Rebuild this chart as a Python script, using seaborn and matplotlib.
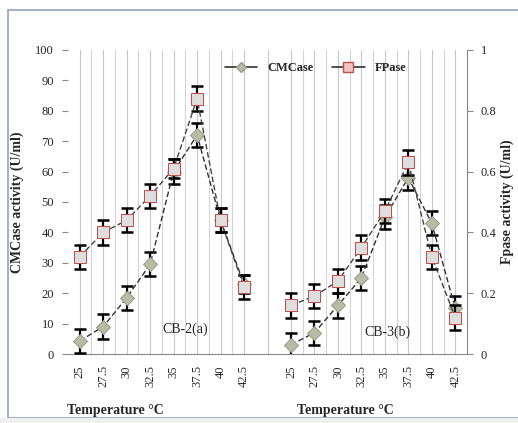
import numpy as np
import pandas as pd
import matplotlib
matplotlib.use("Agg")
import matplotlib.pyplot as plt
import seaborn as sns
from matplotlib.patches import Rectangle
from matplotlib.lines import Line2D

# Datos
temps = ["25", "27.5", "30", "32.5", "35", "37.5", "40", "42.5"]
groups = ["CB-2(a)", "CB-3(b)"]

cmc_a = [4.3, 9, 18.5, 29.5, 60, 72, 44, 23]
cmc_a_err = [4, 4, 4, 4, 4, 4, 4, 3]
fp_a = [0.32, 0.40, 0.44, 0.52, 0.61, 0.84, 0.44, 0.22]
fp_a_err = [0.04, 0.04, 0.04, 0.04, 0.03, 0.04, 0.04, 0.04]

cmc_b = [3, 7, 16, 25, 45, 58, 43, 15]
cmc_b_err = [4, 4, 4, 4, 4, 4, 4, 4]
fp_b = [0.16, 0.19, 0.24, 0.35, 0.47, 0.63, 0.32, 0.12]
fp_b_err = [0.04, 0.04, 0.04, 0.04, 0.04, 0.04, 0.04, 0.04]

# posiciones: 8 categorias + 1 hueco + 8 categorias
n = len(temps)
pos_a = np.arange(n)
pos_b = np.arange(n) + n + 1
df = pd.DataFrame({
    "pos": np.concatenate([pos_a, pos_b]),
    "grupo": [groups[0]] * n + [groups[1]] * n,
    "cmc": cmc_a + cmc_b,
    "cmc_err": cmc_a_err + cmc_b_err,
    "fp": fp_a + fp_b,
    "fp_err": fp_a_err + fp_b_err,
})

sns.set_style("white")
plt.rcParams["font.family"] = ["Liberation Serif", "DejaVu Serif"]

fig = plt.figure(figsize=(5.18, 4.23), dpi=100)
ax = fig.add_axes([68 / 518, 1 - 354 / 423, 399 / 518, 304 / 423])
ax2 = ax.twinx()

ncat = 2 * n + 1
ax.set_xlim(-0.5, ncat - 0.5)
ax.set_ylim(0, 100)
ax2.set_ylim(0, 1)

# rejilla vertical (centros y bordes de categoria)
for x in np.arange(ncat):
    ax.axvline(x, color="#c8c8c8", lw=0.8, zorder=0)
for x in np.arange(ncat - 1) + 0.5:
    if x in (7.5, 8.5):
        continue
    ax.axvline(x, color="#d4d4d4", lw=0.8, zorder=0)

cmc_face = "#b9bca4"
fp_face = "#dedede"
fp_edge = "#c0504d"

for g in groups:
    d = df[df["grupo"] == g]
    ax.errorbar(d["pos"], d["cmc"], yerr=d["cmc_err"], fmt="none", ecolor="black",
                elinewidth=1.6, capsize=4, capthick=1.8, zorder=3)
    ax2.errorbar(d["pos"], d["fp"], yerr=d["fp_err"], fmt="none", ecolor="black",
                 elinewidth=1.6, capsize=4, capthick=1.8, zorder=3)
    sns.lineplot(data=d, x="pos", y="cmc", ax=ax, color="#333333", lw=1.0,
                 linestyle=(0, (4, 2)), marker="D", markersize=7,
                 markerfacecolor=cmc_face, markeredgecolor="#9a9d88", zorder=4)
    sns.lineplot(data=d, x="pos", y="fp", ax=ax2, color="#444444", lw=1.0,
                 linestyle=(0, (4, 2)), marker="s", markersize=9,
                 markerfacecolor=fp_face, markeredgecolor=fp_edge, zorder=4)

# ejes x
ticklabels = temps + [""] + temps
ax.set_xticks(np.arange(ncat))
ax.set_xticklabels(ticklabels, rotation=90, fontsize=9)
ax.set_xticks([1.5, 2.5, 3.5, 6.5, 7.5, 9.5, 10.5, 11.5, 14.5, 15.5], minor=True)
ax.tick_params(axis="x", which="major", length=0, pad=8)
ax.tick_params(axis="x", which="minor", length=4, color="#888888", direction="out")
ax.set_xlabel("")
ax.set_ylabel("")
ax2.set_xlabel("")
ax2.set_ylabel("")

ax.set_yticks(np.arange(0, 101, 10))
ax.tick_params(axis="y", length=4, color="#888888", labelsize=9, pad=6)
ax2.set_yticks(np.arange(0, 1.01, 0.2))
ax2.set_yticklabels(["0", "0.2", "0.4", "0.6", "0.8", "1"])
ax2.tick_params(axis="y", length=4, color="#888888", labelsize=9, pad=6)

for a in (ax, ax2):
    for s in ("top", "left"):
        a.spines[s].set_visible(False)
ax2.spines["right"].set_color("#888888")
ax2.spines["right"].set_visible(True)
ax.spines["right"].set_visible(False)
ax2.spines["bottom"].set_visible(False)
ax.spines["bottom"].set_color("#888888")

ax.text(-0.128, 0.5, "CMCase activity (U/ml)", transform=ax.transAxes, rotation=90,
        ha="center", va="center", fontsize=10, fontweight="bold")
ax2.text(1.1, 0.5, "Fpase activity (U/ml)", transform=ax.transAxes, rotation=90,
         ha="center", va="center", fontsize=10, fontweight="bold")

ax.text(4.5, 8, groups[0], fontsize=10, ha="center", va="center")
ax.text(13.1, 7, groups[1], fontsize=10, ha="center", va="center")

fig.text(115 / 518, 1 - 410 / 423, "Temperature °C", fontsize=10, fontweight="bold",
         ha="center", va="center")
fig.text(345 / 518, 1 - 410 / 423, "Temperature °C", fontsize=10, fontweight="bold",
         ha="center", va="center")

handles = [
    Line2D([], [], color="#333333", lw=1.2, marker="D", markersize=5,
           markerfacecolor=cmc_face, markeredgecolor="#9a9d88"),
    Line2D([], [], color="#333333", lw=1.2, marker="s", markersize=7,
           markerfacecolor="#f2c4c4", markeredgecolor=fp_edge),
]
leg = ax.legend(handles, ["CMCase", "FPase"], ncol=2, frameon=False,
                loc="center", bbox_to_anchor=(0.62, 0.94),
                handlelength=2.6, columnspacing=1.5,
                prop={"weight": "bold", "size": 9})

# marco de la figura
fig.patches.append(Rectangle((8 / 518, 5 / 423), 520 / 518, 408 / 423,
                             transform=fig.transFigure, fill=False,
                             edgecolor="#8ea6c4", lw=1.2))
fig.patches.append(Rectangle((0, 0), 1, 5 / 423, transform=fig.transFigure,
                             facecolor="#f0f0f0", edgecolor="none"))

fig.savefig("out.png", dpi=100)
